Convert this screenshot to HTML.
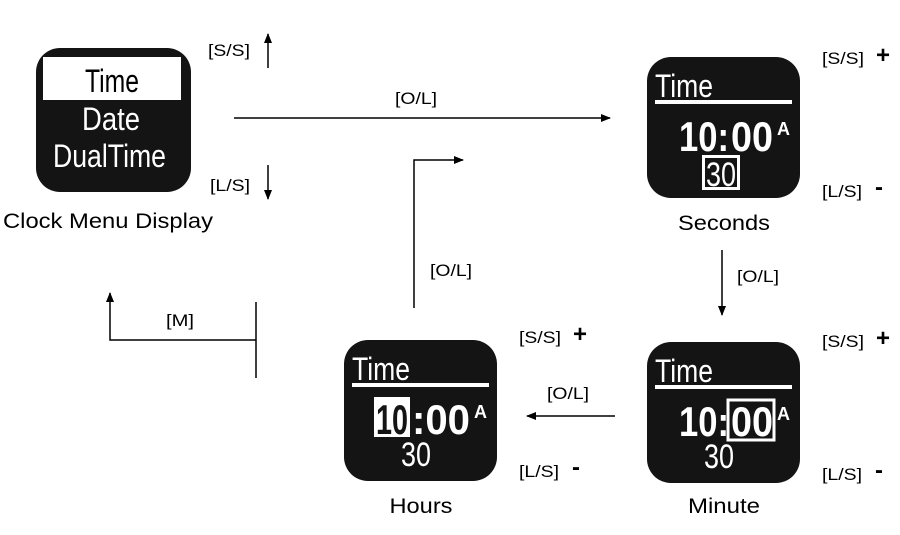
<!DOCTYPE html>
<html><head><meta charset="utf-8"><style>
html,body{margin:0;padding:0;background:#fff;}
svg{display:block;}
text{font-family:"Liberation Sans",sans-serif;}
</style></head><body>
<svg width="900" height="535" viewBox="0 0 900 535" xmlns="http://www.w3.org/2000/svg">
<defs>
<marker id="ah" markerWidth="10" markerHeight="10" refX="9" refY="5" orient="auto" markerUnits="userSpaceOnUse">
<path d="M0,1 L10,5 L0,9 Z" fill="#000"/></marker>
</defs>
<!-- Clock menu -->
<rect x="36" y="48" width="155" height="144" rx="24" fill="#141414"/>
<rect x="43" y="57" width="138" height="43" fill="#fff"/>
<text x="85" y="92" font-size="32" textLength="54" lengthAdjust="spacingAndGlyphs" fill="#000">Time</text>
<text x="82" y="130" font-size="32" textLength="58" lengthAdjust="spacingAndGlyphs" fill="#fff">Date</text>
<text x="53" y="167" font-size="32" textLength="113" lengthAdjust="spacingAndGlyphs" fill="#fff">DualTime</text>
<text x="108" y="228" font-size="21" text-anchor="middle" textLength="210" lengthAdjust="spacingAndGlyphs" fill="#000">Clock Menu Display</text>

<text x="208" y="56" font-size="17" textLength="42" lengthAdjust="spacingAndGlyphs">[S/S]</text>
<line x1="268" y1="68" x2="268" y2="34" stroke="#000" stroke-width="1.5" marker-end="url(#ah)"/>
<text x="210" y="191" font-size="17" textLength="40" lengthAdjust="spacingAndGlyphs">[L/S]</text>
<line x1="268" y1="165" x2="268" y2="199" stroke="#000" stroke-width="1.5" marker-end="url(#ah)"/>

<line x1="234" y1="118" x2="610" y2="118" stroke="#000" stroke-width="1.5" marker-end="url(#ah)"/>
<text x="395" y="104" font-size="17" textLength="42" lengthAdjust="spacingAndGlyphs">[O/L]</text>

<!-- Seconds -->
<g transform="translate(647,57)">
<rect width="153" height="141" rx="24" fill="#141414"/>
<text x="8" y="40" font-size="32" textLength="58" lengthAdjust="spacingAndGlyphs" fill="#fff">Time</text>
<rect x="8" y="43" width="137" height="4" fill="#fff"/>
<text x="32" y="94" font-size="42" font-weight="bold" textLength="50" lengthAdjust="spacingAndGlyphs" fill="#fff">10:</text>
<text x="84" y="94" font-size="42" font-weight="bold" textLength="42" lengthAdjust="spacingAndGlyphs" fill="#fff">00</text>
<text x="130" y="78" font-size="18" font-weight="bold" fill="#fff">A</text>
<rect x="55" y="98" width="38" height="35" fill="#fff"/>
<rect x="58" y="101" width="32" height="29" fill="#141414"/>
<text x="59" y="129" font-size="34" textLength="30" lengthAdjust="spacingAndGlyphs" fill="#fff">30</text>
</g>
<text x="724" y="230" font-size="21" text-anchor="middle" textLength="92" lengthAdjust="spacingAndGlyphs">Seconds</text>
<text x="822" y="64" font-size="17" textLength="42" lengthAdjust="spacingAndGlyphs">[S/S]</text><text x="876" y="63" font-size="24" font-weight="bold">+</text>
<text x="822" y="197" font-size="17" textLength="40" lengthAdjust="spacingAndGlyphs">[L/S]</text><text x="875" y="195" font-size="24" font-weight="bold">-</text>

<line x1="722" y1="250" x2="722" y2="315" stroke="#000" stroke-width="1.5" marker-end="url(#ah)"/>
<text x="737" y="282" font-size="17" textLength="42" lengthAdjust="spacingAndGlyphs">[O/L]</text>

<!-- Minute -->
<g transform="translate(647,342)">
<rect width="153" height="141" rx="24" fill="#141414"/>
<text x="8" y="40" font-size="32" textLength="58" lengthAdjust="spacingAndGlyphs" fill="#fff">Time</text>
<rect x="8" y="43" width="137" height="4" fill="#fff"/>
<text x="32" y="94" font-size="42" font-weight="bold" textLength="50" lengthAdjust="spacingAndGlyphs" fill="#fff">10:</text>
<text x="84" y="94" font-size="42" font-weight="bold" textLength="42" lengthAdjust="spacingAndGlyphs" fill="#fff">00</text>
<text x="130" y="78" font-size="18" font-weight="bold" fill="#fff">A</text>
<rect x="81" y="58" width="46" height="40" fill="none" stroke="#fff" stroke-width="3"/>
<text x="57" y="126" font-size="34" textLength="30" lengthAdjust="spacingAndGlyphs" fill="#fff">30</text>
</g>
<text x="724" y="513" font-size="21" text-anchor="middle" textLength="72" lengthAdjust="spacingAndGlyphs">Minute</text>
<text x="822" y="347" font-size="17" textLength="42" lengthAdjust="spacingAndGlyphs">[S/S]</text><text x="876" y="346" font-size="24" font-weight="bold">+</text>
<text x="822" y="480" font-size="17" textLength="40" lengthAdjust="spacingAndGlyphs">[L/S]</text><text x="875" y="478" font-size="24" font-weight="bold">-</text>

<line x1="615" y1="416" x2="527" y2="416" stroke="#000" stroke-width="1.5" marker-end="url(#ah)"/>
<text x="547" y="399" font-size="17" textLength="42" lengthAdjust="spacingAndGlyphs">[O/L]</text>

<!-- Hours -->
<g transform="translate(344,340)">
<rect width="153" height="141" rx="24" fill="#141414"/>
<text x="8" y="40" font-size="32" textLength="58" lengthAdjust="spacingAndGlyphs" fill="#fff">Time</text>
<rect x="8" y="43" width="137" height="4" fill="#fff"/>
<rect x="30" y="57" width="36" height="40" fill="#fff"/>
<text x="32" y="94" font-size="42" font-weight="bold" textLength="32" lengthAdjust="spacingAndGlyphs" fill="#141414">10</text>
<text x="68" y="94" font-size="42" font-weight="bold" textLength="58" lengthAdjust="spacingAndGlyphs" fill="#fff">:00</text>
<text x="130" y="78" font-size="18" font-weight="bold" fill="#fff">A</text>
<text x="57" y="126" font-size="34" textLength="30" lengthAdjust="spacingAndGlyphs" fill="#fff">30</text>
</g>
<text x="421" y="513" font-size="21" text-anchor="middle" textLength="63" lengthAdjust="spacingAndGlyphs">Hours</text>
<text x="519" y="343" font-size="17" textLength="42" lengthAdjust="spacingAndGlyphs">[S/S]</text><text x="573" y="342" font-size="24" font-weight="bold">+</text>
<text x="519" y="477" font-size="17" textLength="40" lengthAdjust="spacingAndGlyphs">[L/S]</text><text x="572" y="475" font-size="24" font-weight="bold">-</text>

<polyline points="414,308 414,160 463,160" fill="none" stroke="#000" stroke-width="1.5" marker-end="url(#ah)"/>
<text x="430" y="276" font-size="17" textLength="42" lengthAdjust="spacingAndGlyphs">[O/L]</text>

<line x1="256" y1="302" x2="256" y2="378" stroke="#000" stroke-width="1.5"/>
<polyline points="256,340 110,340 110,293" fill="none" stroke="#000" stroke-width="1.5" marker-end="url(#ah)"/>
<text x="166" y="326" font-size="17" textLength="28" lengthAdjust="spacingAndGlyphs">[M]</text>
</svg>
</body></html>
